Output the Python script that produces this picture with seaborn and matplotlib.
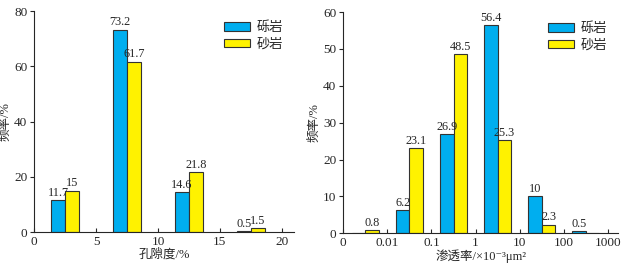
import numpy as np
import pandas as pd
import matplotlib
matplotlib.use("Agg")
import matplotlib.pyplot as plt
import seaborn as sns

# 孔隙度分布
poro_bins = [2.5, 7.5, 12.5, 17.5]
poro_gravel = [11.7, 73.2, 14.6, 0.5]
poro_sand = [15, 61.7, 21.8, 1.5]

# 渗透率分布 (区间: 0-0.01, 0.01-0.1, ..., 100-1000)
perm_bins = ["b0", "b1", "b2", "b3", "b4", "b5"]
perm_gravel = [0, 6.2, 26.9, 56.4, 10, 0.5]
perm_sand = [0.8, 23.1, 48.5, 25.3, 2.3, 0]
perm_ticks = ["0", "0.01", "0.1", "1", "10", "100", "1000"]

rocks = ["砾岩", "砂岩"]
colors = ["#00AEEF", "#FFF200"]

sns.set_style("ticks")
plt.rcParams["font.family"] = ["Liberation Serif", "Noto Sans CJK SC", "DejaVu Sans"]
plt.rcParams["font.size"] = 9.5

df1 = pd.DataFrame({
    "x": poro_bins * 2,
    "y": poro_gravel + poro_sand,
    "rock": [rocks[0]] * len(poro_bins) + [rocks[1]] * len(poro_bins),
})
df2 = pd.DataFrame({
    "x": perm_bins * 2,
    "y": perm_gravel + perm_sand,
    "rock": [rocks[0]] * len(perm_bins) + [rocks[1]] * len(perm_bins),
})

fig = plt.figure(figsize=(6.29, 2.65), dpi=100)
ax1 = fig.add_axes([0.0545, 0.1234, 0.413, 0.835])
ax2 = fig.add_axes([0.5458, 0.1196, 0.4367, 0.835])

sns.barplot(data=df1, x="x", y="y", hue="rock", hue_order=rocks, palette=colors,
            native_scale=True, width=0.45, saturation=1, edgecolor="#333333",
            linewidth=0.8, ax=ax1, legend=True)
sns.barplot(data=df2, x="x", y="y", hue="rock", hue_order=rocks, palette=colors,
            order=perm_bins, width=0.62, saturation=1, edgecolor="#333333",
            linewidth=0.8, ax=ax2, legend=True)


def fmt(v):
    return "" if v == 0 else f"{v:g}"


for ax in (ax1, ax2):
    for cont in ax.containers:
        ax.bar_label(cont, labels=[fmt(b.get_height()) for b in cont], padding=1, fontsize=8.8)
    sns.despine(ax=ax)
    ax.tick_params(axis="x", direction="in", length=3, pad=3, labelsize=9.5)
    ax.tick_params(axis="y", direction="out", length=3, pad=2, labelsize=9.5)
    ax.set_ylabel("频率/%", fontsize=9, labelpad=2)
    ax.legend(loc="upper right", frameon=False, fontsize=9.5, handlelength=2.0,
              handleheight=0.6, labelspacing=0.3, borderaxespad=0.4,
              handletextpad=0.5)
    for h in ax.get_legend().legend_handles:
        h.set_edgecolor("#333333")

ax1.set_xlim(0, 21)
ax1.set_ylim(0, 80)
ax1.set_xticks([0, 5, 10, 15, 20])
ax1.set_yticks([0, 20, 40, 60, 80])
ax1.set_xlabel("孔隙度/%", fontsize=9, labelpad=0)

ax2.set_xlim(-0.5, 5.73)
ax2.set_ylim(0, 60)
ax2.set_xticks(np.arange(len(perm_ticks)) - 0.5)
ax2.set_xticklabels(perm_ticks)
ax2.set_yticks(np.arange(0, 61, 10))
ax2.set_xlabel("渗透率/×10⁻³μm²", fontsize=9, labelpad=0)

fig.savefig("out.png", dpi=100)
